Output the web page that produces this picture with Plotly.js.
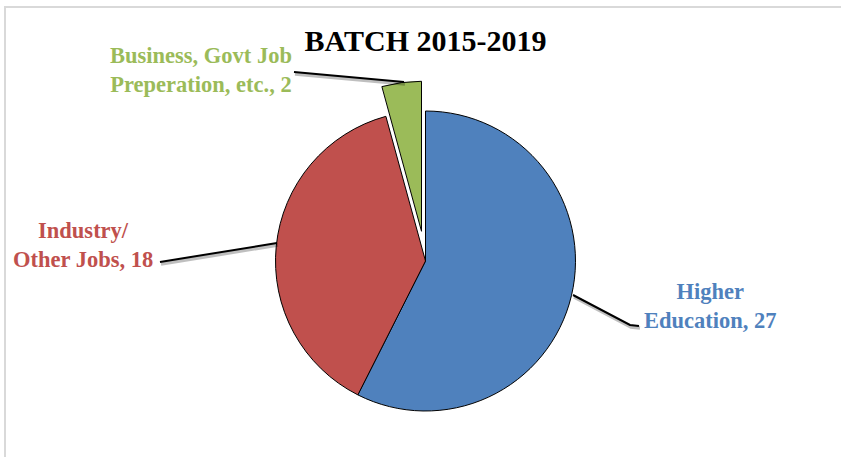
<!DOCTYPE html>
<html>
<head>
<meta charset="utf-8">
<script src="https://cdn.plot.ly/plotly-3.0.1.min.js"></script>
<style>
  html, body { margin: 0; padding: 0; background: #ffffff; }
  #chart { width: 841px; height: 457px; }
</style>
</head>
<body>
<div id="chart"></div>
<script>
// ---- data ----
const categories = ['Higher Education', 'Industry/Other Jobs', 'Business, Govt Job Preperation, etc.'];
const values = [27, 18, 2];
const pulls = [0, 0, 0.2];
const labelLine1 = ['Higher', 'Industry/', 'Business, Govt Job'];
const labelLine2 = ['Education', 'Other Jobs', 'Preperation, etc.'];
const colors = ['#4F81BD', '#C0504D', '#9BBB59'];
const chartTitle = 'BATCH 2015-2019';

// ---- layout helpers ----
const W = 841, H = 457;
const px = x => x / W;
const py = y => 1 - y / H;

// label placement (pixel centres) and leader-line paths
const labelPos = [[710, 306], [83, 245], [201, 70]];
const leaderPaths = [
  [[573, 295], [630, 325], [639, 326]],
  [[277, 243], [160, 262]],
  [[404, 82], [294, 72]]
];

const annotations = categories.map((c, i) => ({
  xref: 'paper', yref: 'paper',
  x: px(labelPos[i][0]), y: py(labelPos[i][1]),
  xanchor: 'center', yanchor: 'middle',
  align: 'center',
  showarrow: false,
  text: labelLine1[i] + '<br>' + labelLine2[i] + ', ' + values[i],
  font: { family: 'Liberation Serif, Times New Roman, serif', size: 22.5, color: colors[i], weight: 'bold' }
}));

function pathStr(pts, dx, dy) {
  return pts.map((p, k) => (k ? 'L' : 'M') + px(p[0] + dx) + ',' + py(p[1] + dy)).join(' ');
}

const shapes = [];
// chart area border (left and top only visible)
shapes.push({
  type: 'path', xref: 'paper', yref: 'paper',
  path: 'M' + px(845) + ',' + py(7) + ' L' + px(5) + ',' + py(7) + ' L' + px(5) + ',' + py(460),
  line: { color: '#d9d9d9', width: 2 }
});
leaderPaths.forEach(pts => {
  shapes.push({ type: 'path', xref: 'paper', yref: 'paper', path: pathStr(pts, 1, 2),
    line: { color: 'rgba(0,0,0,0.25)', width: 3.5 } });
  shapes.push({ type: 'path', xref: 'paper', yref: 'paper', path: pathStr(pts, 0, 0),
    line: { color: '#000000', width: 2 } });
});

const trace = {
  type: 'pie',
  labels: categories,
  values: values,
  pull: pulls,
  sort: false,
  direction: 'clockwise',
  rotation: 0,
  textinfo: 'none',
  hoverinfo: 'none',
  showlegend: false,
  marker: { colors: colors, line: { color: '#000000', width: 1 } },
  domain: { x: [px(245.5), px(605.5)], y: [py(441), py(81)] }
};

const layout = {
  width: W, height: H,
  margin: { l: 0, r: 0, t: 0, b: 0 },
  paper_bgcolor: '#ffffff',
  plot_bgcolor: '#ffffff',
  showlegend: false,
  title: {
    text: chartTitle,
    x: px(425.5), xanchor: 'center',
    y: py(40), yanchor: 'middle',
    font: { family: 'Liberation Serif, Times New Roman, serif', size: 30, color: '#000000', weight: 'bold' }
  },
  annotations: annotations,
  shapes: shapes
};

Plotly.newPlot('chart', [trace], layout, { displayModeBar: false, staticPlot: true });
</script>
</body>
</html>
